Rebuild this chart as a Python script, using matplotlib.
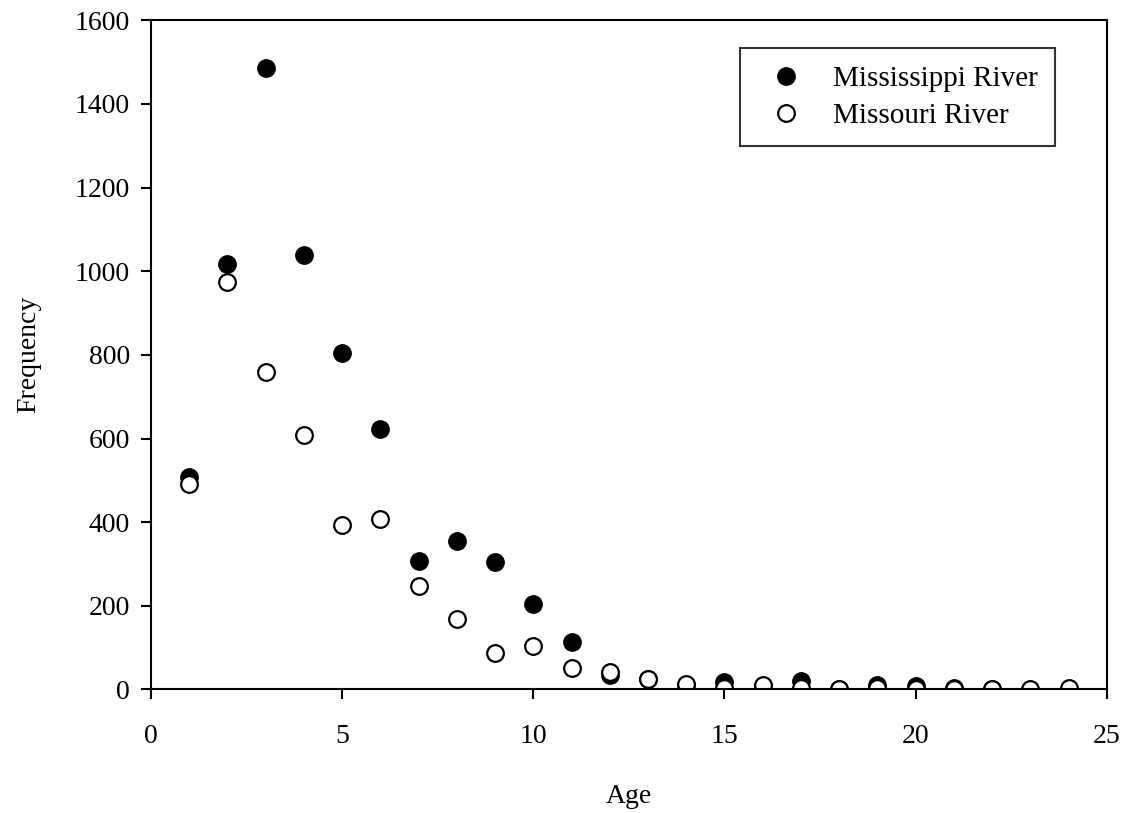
import matplotlib.pyplot as plt

# ages and counts
ages_miss = [1, 2, 3, 4, 5, 6, 7, 8, 9, 10, 11, 12, 13, 14, 15, 16, 17, 18, 19, 20, 21, 22]
freq_miss = [509, 1017, 1485, 1038, 805, 623, 307, 354, 305, 205, 114, 34, 24, 11, 17, 8, 19, 2, 11, 7, 3, 1]

ages_mo = [1, 2, 3, 4, 5, 6, 7, 8, 9, 10, 11, 12, 13, 14, 15, 16, 17, 18, 19, 20, 21, 22, 23, 24]
freq_mo = [492, 975, 758, 609, 394, 407, 248, 169, 88, 103, 52, 41, 25, 12, 4, 11, 3, 1, 3, 2, 1, 1, 0, 4]

xticks = [0, 5, 10, 15, 20, 25]
yticks = [0, 200, 400, 600, 800, 1000, 1200, 1400, 1600]

plt.rcParams['font.family'] = ['Liberation Serif', 'DejaVu Serif']

fig = plt.figure(figsize=(11.26, 8.13), dpi=100)
ax = fig.add_axes([0.134, 0.152, 0.849, 0.823])

ax.plot(ages_miss, freq_miss, 'o', color='black', markersize=12.5,
        linestyle='none', label='Mississippi River')
ax.plot(ages_mo, freq_mo, 'o', markerfacecolor='white', markeredgecolor='black',
        markeredgewidth=1.6, markersize=12, linestyle='none', label='Missouri River')

ax.set_xlim(0, 25)
ax.set_ylim(0, 1600)
ax.set_xticks(xticks)
ax.set_yticks(yticks)
ax.tick_params(direction='out', length=7, width=1.5, labelsize=20)
ax.tick_params(axis='y', pad=8)
ax.tick_params(axis='x', pad=18)
for s in ax.spines.values():
    s.set_linewidth(1.5)

ax.set_xlabel('Age', fontsize=20, labelpad=25)
ax.set_ylabel('Frequency', fontsize=20, labelpad=24)

leg = ax.legend(loc='upper right', bbox_to_anchor=(0.946, 0.958), fontsize=21,
                frameon=True, fancybox=False, edgecolor='black',
                handletextpad=0.6, borderpad=0.6, labelspacing=0.35,
                borderaxespad=0)
leg.get_frame().set_linewidth(1.5)

fig.savefig('out.png', dpi=100)
